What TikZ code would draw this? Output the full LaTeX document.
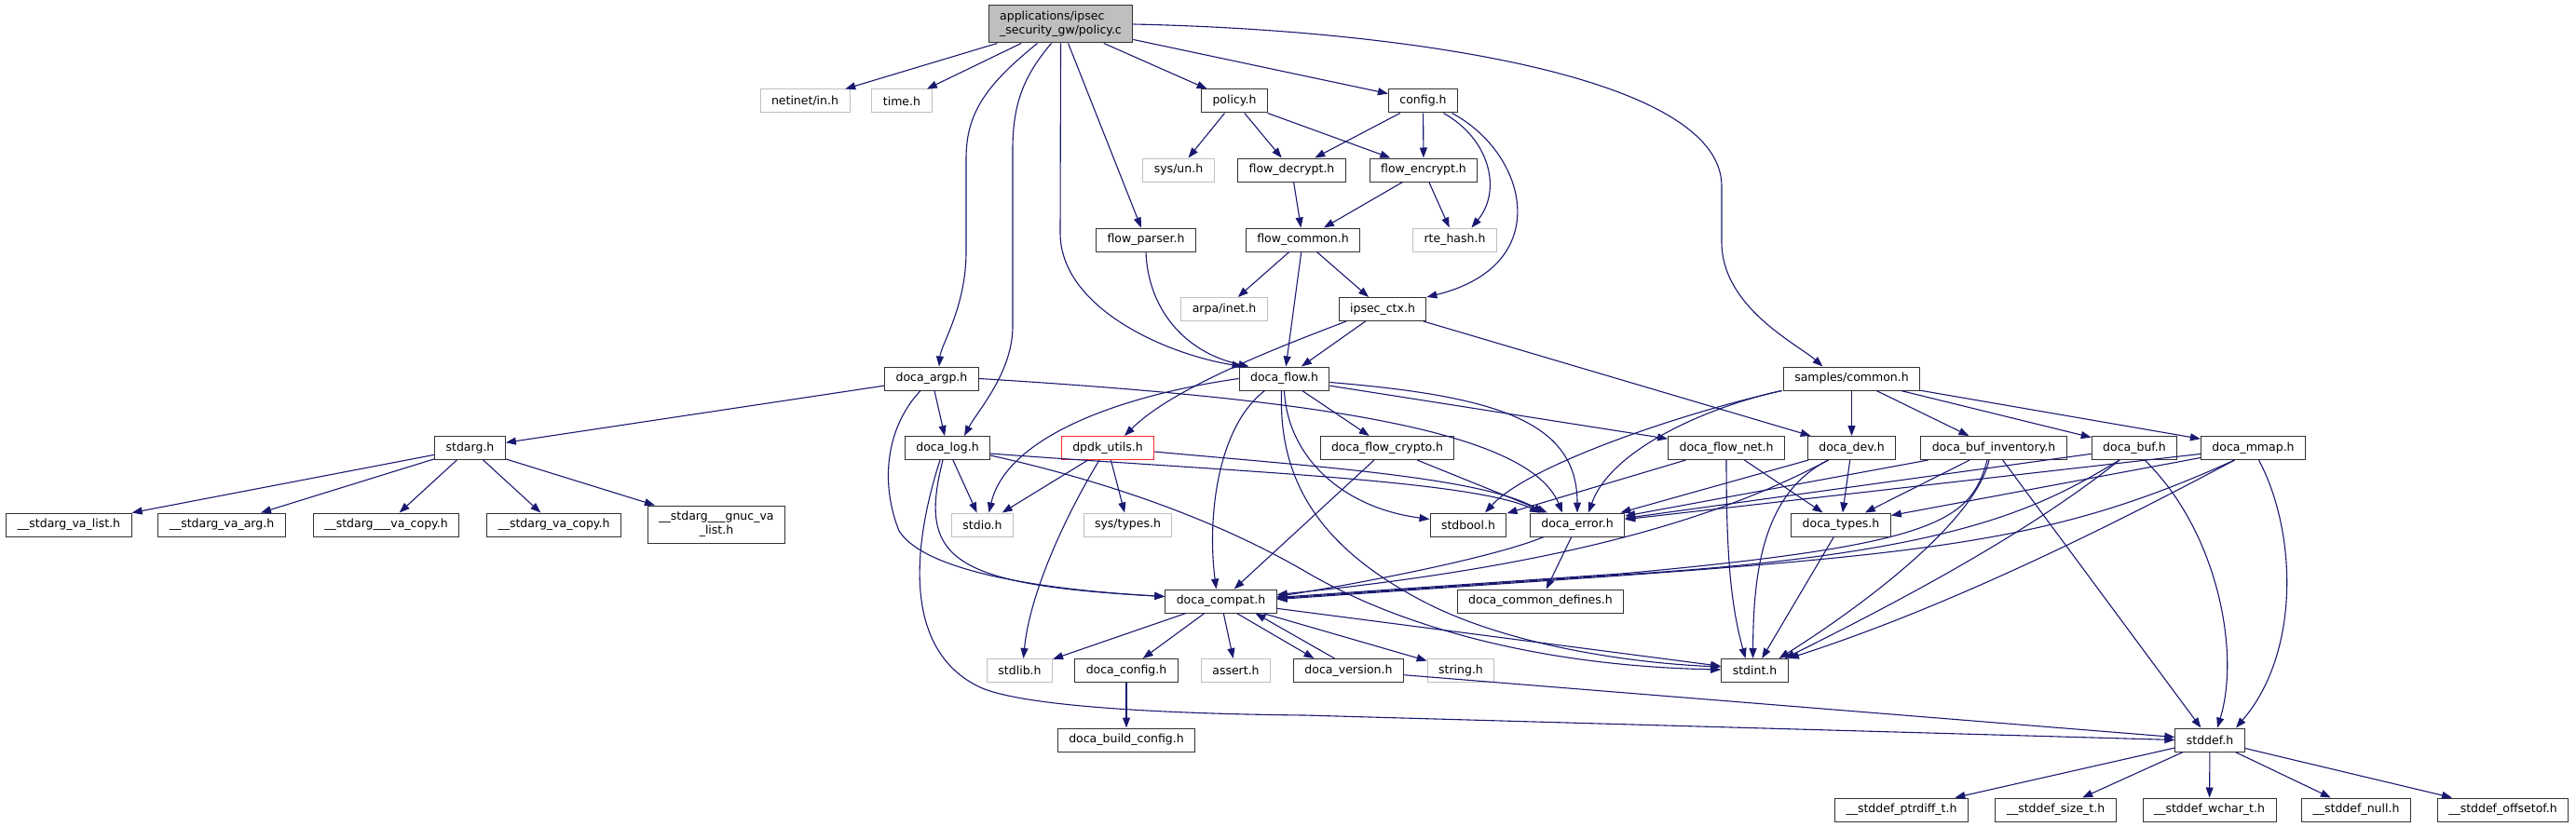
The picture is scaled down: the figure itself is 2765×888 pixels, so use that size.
\documentclass[tikz,border=0pt]{standalone}
\usepackage{fontspec}
\setmainfont{DejaVu Sans}
\usetikzlibrary{arrows.meta}

\begin{document}
\begin{tikzpicture}[x=1pt,y=-1pt]
	\tikzstyle{every node}=[font=\fontsize{12.5}{15}\selectfont]
	\tikzstyle{hdr}=[draw={rgb,255:red,50; green,50; blue,50}, fill=white, line width=1pt, inner xsep=12pt, inner ysep=0pt, minimum height=25pt]
	\tikzstyle{sysbox}=[hdr, draw={rgb,255:red,191; green,191; blue,191}]
	\tikzstyle{redbox}=[hdr, draw={rgb,255:red,255; green,40; blue,40}]
	\tikzstyle{rootbox}=[hdr, fill={rgb,255:red,191; green,191; blue,191}, minimum height=40pt, align=left]
	\tikzstyle{inc}=[draw={rgb,255:red,25; green,25; blue,112}, line width=1.1pt, -{Triangle[length=11pt,width=8pt]}]
	\useasboundingbox (0,0) rectangle (2765,888);

	\node [rootbox] (pc) at (1138.5,26) {applications/ipsec\\\_security\_gw/policy.c};
	\node [sysbox] (netinet) at (864,108.5) {netinet/in.h};
	\node [sysbox] (time) at (968,108.5) {time.h};
	\node [hdr] (policyh) at (1325,108.5) {policy.h};
	\node [hdr] (config) at (1527.5,108.5) {config.h};
	\node [sysbox] (sysun) at (1265,182.5) {sys/un.h};
	\node [hdr] (fdecrypt) at (1386.5,182.5) {flow\_decrypt.h};
	\node [hdr] (fencrypt) at (1528,182.5) {flow\_encrypt.h};
	\node [hdr] (fparser) at (1230,257.5) {flow\_parser.h};
	\node [hdr] (fcommon) at (1398.5,257.5) {flow\_common.h};
	\node [sysbox] (rtehash) at (1561.5,257.5) {rte\_hash.h};
	\node [sysbox] (arpainet) at (1314,332) {arpa/inet.h};
	\node [hdr] (ipsecctx) at (1484,332) {ipsec\_ctx.h};
	\node [hdr] (argp) at (1000,406.5) {doca\_argp.h};
	\node [hdr] (flow) at (1378.5,406.5) {doca\_flow.h};
	\node [hdr] (samples) at (1987.5,406.5) {samples/common.h};
	\node [hdr] (stdarg) at (504.5,481) {stdarg.h};
	\node [hdr] (log) at (1017,481) {doca\_log.h};
	\node [redbox] (dpdk) at (1189,481) {dpdk\_utils.h};
	\node [hdr] (fcrypto) at (1489,481) {doca\_flow\_crypto.h};
	\node [hdr] (fnet) at (1853,481) {doca\_flow\_net.h};
	\node [hdr] (dev) at (1987.5,481) {doca\_dev.h};
	\node [hdr] (bufinv) at (2140,481) {doca\_buf\_inventory.h};
	\node [hdr] (buf) at (2291,481) {doca\_buf.h};
	\node [hdr] (mmap) at (2418.5,481) {doca\_mmap.h};
	\node [hdr] (valist) at (74,563.5) {\_\_stdarg\_va\_list.h};
	\node [hdr] (vaarg) at (238,563.5) {\_\_stdarg\_va\_arg.h};
	\node [hdr] (uvacopy) at (414.5,563.5) {\_\_stdarg\_\_\_va\_copy.h};
	\node [hdr] (vacopy) at (594.5,563.5) {\_\_stdarg\_va\_copy.h};
	\node [hdr, minimum height=40pt, align=center] (gnuc) at (769,563) {\_\_stdarg\_\_\_gnuc\_va\\\_list.h};
	\node [sysbox] (stdio) at (1054.5,563.5) {stdio.h};
	\node [sysbox] (systypes) at (1210.5,563.5) {sys/types.h};
	\node [hdr] (stdbool) at (1576,563.5) {stdbool.h};
	\node [hdr] (error) at (1693,563.5) {doca\_error.h};
	\node [hdr] (types) at (1976,563.5) {doca\_types.h};
	\node [hdr] (compat) at (1310.5,645.5) {doca\_compat.h};
	\node [hdr] (commondef) at (1653.5,645.5) {doca\_common\_defines.h};
	\node [sysbox] (stdlib) at (1094.5,720) {stdlib.h};
	\node [hdr] (cfg) at (1209,720) {doca\_config.h};
	\node [sysbox] (assert) at (1326.5,720) {assert.h};
	\node [hdr] (version) at (1447.5,720) {doca\_version.h};
	\node [sysbox] (string) at (1568,720) {string.h};
	\node [hdr] (stdint) at (1883.5,720) {stdint.h};
	\node [hdr] (buildcfg) at (1209,794.5) {doca\_build\_config.h};
	\node [hdr] (stddef) at (2372,794.5) {stddef.h};
	\node [hdr] (ptrdiff) at (2041,869.5) {\_\_stddef\_ptrdiff\_t.h};
	\node [hdr] (sizet) at (2206.5,869.5) {\_\_stddef\_size\_t.h};
	\node [hdr] (wchar) at (2371.5,869.5) {\_\_stddef\_wchar\_t.h};
	\node [hdr] (null) at (2529,869.5) {\_\_stddef\_null.h};
	\node [hdr] (offsetof) at (2686.5,869.5) {\_\_stddef\_offsetof.h};

	% policy.c
	\draw [inc] (pc) -- (netinet);
	\draw [inc] (pc) -- (time);
	\draw [inc] (pc) -- (policyh);
	\draw [inc] (pc) -- (config);
	\draw [inc] (pc) -- (fparser);
	\draw [inc] (pc.east) .. controls (1500,32) and (1848,80) .. (1848,200) -- (1848,260) .. controls (1848,330) and (1930,370) .. ([xshift=-31pt]samples.north);
	\draw [inc] ([xshift=-25pt]pc.south) .. controls (1060,90) and (1037,120) .. (1037,170) -- (1037,270) .. controls (1037,330) and (1010,370) .. ([xshift=8pt]argp.north);
	\draw [inc] ([xshift=-10pt]pc.south) .. controls (1100,80) and (1087,110) .. (1087,160) -- (1087,350) .. controls (1087,400) and (1050,440) .. ([xshift=18pt]log.north);
	\draw [inc] (pc.south) -- (1138,250) .. controls (1138,330) and (1250,380) .. ([xshift=-45pt]flow.north);
	% policy.h, config.h
	\draw [inc] (policyh) -- (sysun);
	\draw [inc] (policyh) -- (fdecrypt);
	\draw [inc] (policyh) -- (fencrypt);
	\draw [inc] (config) -- (fdecrypt);
	\draw [inc] (config) -- (fencrypt);
	\draw [inc] ([xshift=22pt]config.south) .. controls (1600,150) and (1612,205) .. ([xshift=18pt]rtehash.north);
	\draw [inc] ([xshift=31pt]config.south) .. controls (1640,165) and (1670,285) .. (ipsecctx.north east);
	\draw [inc] (fdecrypt) -- (fcommon);
	\draw [inc] (fencrypt) -- (fcommon);
	\draw [inc] (fencrypt) -- (rtehash);
	\draw [inc] (fcommon) -- (arpainet);
	\draw [inc] (fcommon) -- (ipsecctx);
	\draw [inc] (fcommon) -- (flow);
	\draw [inc] (fparser.south) .. controls (1232,330) and (1270,378) .. ([xshift=-38pt]flow.north);
	% ipsec_ctx.h
	\draw [inc] (ipsecctx) -- (flow);
	\draw [inc] (ipsecctx) -- (dev);
	\draw [inc] ([xshift=-39pt]ipsecctx.south) .. controls (1380,370) and (1260,415) .. ([xshift=18pt]dpdk.north);
	% doca_argp.h
	\draw [inc] (argp) -- (stdarg);
	\draw [inc] (argp) -- (log);
	\draw [inc] ([xshift=-12pt]argp.south) .. controls (950,460) and (945,520) .. (965,570) .. controls (990,610) and (1100,632) .. ([yshift=5pt]compat.west);
	\draw [inc] (argp.east) .. controls (1400,428) and (1640,460) .. ([xshift=-16pt]error.north);
	% doca_flow.h
	\draw [inc] (flow) -- (fcrypto);
	\draw [inc] (flow) -- (fnet);
	\draw [inc] (flow.west) .. controls (1200,425) and (1080,470) .. ([xshift=7pt]stdio.north);
	\draw [inc] ([yshift=-4pt]flow.east) .. controls (1600,425) and (1693,450) .. (error.north);
	\draw [inc] ([xshift=-21pt]flow.south) .. controls (1305,460) and (1296,560) .. ([xshift=-5pt]compat.north);
	\draw [inc] ([xshift=-3pt]flow.south) .. controls (1372,520) and (1420,590) .. (1530,647) .. controls (1620,693) and (1750,712) .. ([yshift=4pt]stdint.west);
	\draw [inc] (flow.south) .. controls (1382,490) and (1440,545) .. ([yshift=6pt]stdbool.west);
	% doca_log.h
	\draw [inc] (log) -- (stdio);
	\draw [inc] ([xshift=-5pt]log.south) .. controls (985,600) and (1020,628) .. ([yshift=5pt]compat.west);
	\draw [inc] ([xshift=-8pt]log.south) .. controls (975,600) and (975,700) .. (1050,737) .. controls (1100,762) and (1300,767) .. (1400,768) -- (stddef.west);
	\draw [inc] ([yshift=-6pt]log.east) .. controls (1300,505) and (1580,515) .. ([xshift=-40pt]error.north);
	\draw [inc] ([yshift=-8pt]log.east) .. controls (1180,515) and (1300,555) .. (1400,613) .. controls (1500,672) and (1650,715) .. ([yshift=1pt]stdint.west);
	% dpdk_utils.h
	\draw [inc] (dpdk) -- (stdio);
	\draw [inc] (dpdk) -- (systypes);
	\draw [inc] ([xshift=-9pt]dpdk.south) .. controls (1140,560) and (1105,640) .. ([xshift=4pt]stdlib.north);
	\draw [inc] ([yshift=-4pt]dpdk.east) .. controls (1400,500) and (1590,512) .. ([xshift=-36pt]error.north);
	% doca_flow_crypto.h, doca_flow_net.h
	\draw [inc] (fcrypto) -- (error);
	\draw [inc] (fcrypto) -- (compat);
	\draw [inc] (fnet) -- (stdbool);
	\draw [inc] (fnet) -- (types);
	\draw [inc] (fnet.south) .. controls (1853,600) and (1858,650) .. ([xshift=-10pt]stdint.north);
	% doca_dev.h
	\draw [inc] (dev) -- (error);
	\draw [inc] (dev) -- (types);
	\draw [inc] ([xshift=-25pt]dev.south) .. controls (1890,530) and (1882,620) .. ([xshift=-2pt]stdint.north);
	\draw [inc] ([xshift=-25pt]dev.south) .. controls (1830,565) and (1650,610) .. ([yshift=7pt]compat.east);
	% samples/common.h
	\draw [inc] (samples) -- (dev);
	\draw [inc] (samples) -- (bufinv);
	\draw [inc] (samples) -- (buf);
	\draw [inc] (samples) -- (mmap);
	\draw [inc] ([xshift=-75pt]samples.south) .. controls (1800,445) and (1640,500) .. ([xshift=18pt]stdbool.north);
	\draw [inc] ([xshift=-75pt]samples.south) .. controls (1840,435) and (1730,480) .. ([xshift=12pt]error.north);
	% doca_buf_inventory.h
	\draw [inc] (bufinv) -- (error);
	\draw [inc] (bufinv) -- (types);
	\draw [inc] (bufinv) -- (stddef);
	\draw [inc] ([xshift=-7pt]bufinv.south) .. controls (2115,560) and (2080,585) .. (1740,616) -- ([yshift=4pt]compat.east);
	\draw [inc] ([xshift=-5pt]bufinv.south) .. controls (2120,560) and (2000,650) .. ([xshift=26pt]stdint.north);
	% doca_buf.h
	\draw [inc] (buf) -- (error);
	\draw [inc] ([xshift=-16pt]buf.south) .. controls (2190,545) and (2100,595) .. (1740,617) -- ([yshift=3pt]compat.east);
	\draw [inc] ([xshift=-16pt]buf.south) .. controls (2180,570) and (2050,640) .. ([xshift=32pt]stdint.north);
	\draw [inc] ([xshift=11pt]buf.south) .. controls (2380,570) and (2405,700) .. ([xshift=8pt]stddef.north);
	% doca_mmap.h
	\draw [inc] (mmap) -- (error);
	\draw [inc] (mmap) -- (types);
	\draw [inc] ([xshift=-20pt]mmap.south) .. controls (2220,575) and (2100,592) .. (1740,618) -- ([yshift=2pt]compat.east);
	\draw [inc] ([xshift=-20pt]mmap.south) .. controls (2200,600) and (2050,665) .. (stdint.north east);
	\draw [inc] ([xshift=6pt]mmap.south) .. controls (2465,570) and (2470,700) .. ([xshift=28pt]stddef.north);
	% doca_types.h, doca_error.h
	\draw [inc] (types) -- (stdint);
	\draw [inc] (error) -- (commondef);
	\draw [inc] ([xshift=-36pt]error.south) .. controls (1600,600) and (1450,628) .. ([yshift=5pt]compat.east);
	% doca_compat.h
	\draw [inc] (compat) -- (stdlib);
	\draw [inc] (compat) -- (cfg);
	\draw [inc] (compat) -- (assert);
	\draw [inc] ([xshift=17pt]compat.south) -- ([xshift=-37pt]version.north);
	\draw [inc] ([xshift=-15pt]version.north) -- ([xshift=37pt]compat.south);
	\draw [inc] (compat) -- (string);
	\draw [inc] (compat) -- (stdint);
	\draw [inc] (version) -- (stddef);
	\draw [inc] (cfg) -- (buildcfg);
	% stdarg.h
	\draw [inc] (stdarg) -- (valist);
	\draw [inc] (stdarg) -- (vaarg);
	\draw [inc] (stdarg) -- (uvacopy);
	\draw [inc] (stdarg) -- (vacopy);
	\draw [inc] (stdarg) -- (gnuc);
	% stddef.h
	\draw [inc] (stddef) -- (ptrdiff);
	\draw [inc] (stddef) -- (sizet);
	\draw [inc] (stddef) -- (wchar);
	\draw [inc] (stddef) -- (null);
	\draw [inc] (stddef) -- (offsetof);
\end{tikzpicture}
\end{document}
